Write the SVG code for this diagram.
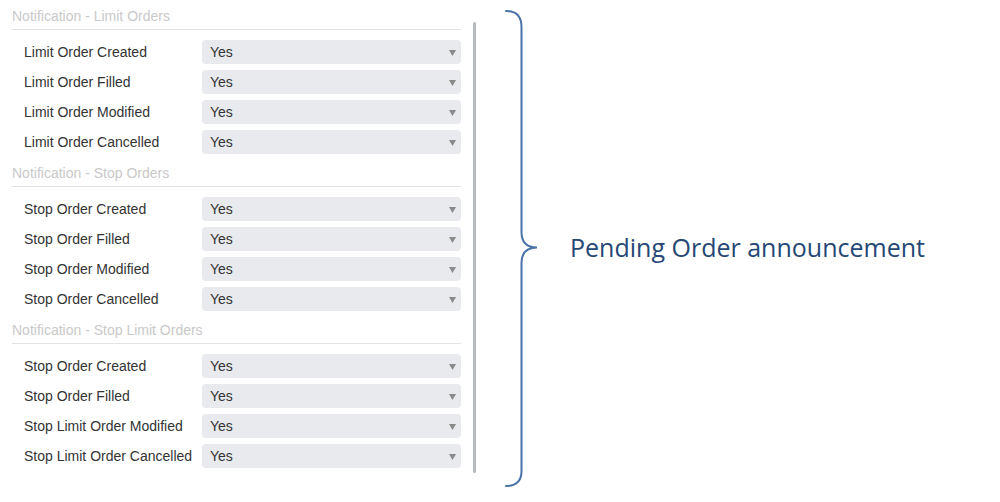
<svg xmlns="http://www.w3.org/2000/svg" width="1000" height="502" viewBox="0 0 1000 502">
<style>
.hdr{font-family:"Liberation Sans",Arial,sans-serif;font-size:14px;fill:#c9c9c9}
.hline{stroke:#e3e3e3;stroke-width:1}
.lbl{font-family:"Liberation Sans",Arial,sans-serif;font-size:14px;fill:#333}
.box{fill:#e8eaed}
.val{font-family:"Liberation Sans",Arial,sans-serif;font-size:14px;fill:#333}
.arr{fill:#8a8a8a}
.brace{fill:none;stroke:#4a73a9;stroke-width:2;stroke-linecap:round}
.big{font-family:"Open Sans","Noto Sans",sans-serif;font-size:25px;fill:#254875}
</style>
<defs>
<g id="sel">
<rect class="box" x="202" y="0" width="259" height="24" rx="4"/>
<text class="val" x="210" y="17">Yes</text>
<polygon class="arr" points="449,10 456,10 452.5,16"/>
</g>
</defs>
<rect width="1000" height="502" fill="#fff"/>
<g id="section-limit">
<text class="hdr" x="12" y="21">Notification - Limit Orders</text>
<line class="hline" x1="12" y1="29.5" x2="461" y2="29.5"/>
<g id="limit-created"><text class="lbl" x="24" y="57">Limit Order Created</text><use href="#sel" y="40"/></g>
<g id="limit-filled"><text class="lbl" x="24" y="87">Limit Order Filled</text><use href="#sel" y="70"/></g>
<g id="limit-modified"><text class="lbl" x="24" y="117">Limit Order Modified</text><use href="#sel" y="100"/></g>
<g id="limit-cancelled"><text class="lbl" x="24" y="147">Limit Order Cancelled</text><use href="#sel" y="130"/></g>
</g>
<g id="section-stop">
<text class="hdr" x="12" y="178">Notification - Stop Orders</text>
<line class="hline" x1="12" y1="186.5" x2="461" y2="186.5"/>
<g id="stop-created"><text class="lbl" x="24" y="214">Stop Order Created</text><use href="#sel" y="197"/></g>
<g id="stop-filled"><text class="lbl" x="24" y="244">Stop Order Filled</text><use href="#sel" y="227"/></g>
<g id="stop-modified"><text class="lbl" x="24" y="274">Stop Order Modified</text><use href="#sel" y="257"/></g>
<g id="stop-cancelled"><text class="lbl" x="24" y="304">Stop Order Cancelled</text><use href="#sel" y="287"/></g>
</g>
<g id="section-stoplimit">
<text class="hdr" x="12" y="335">Notification - Stop Limit Orders</text>
<line class="hline" x1="12" y1="343.5" x2="461" y2="343.5"/>
<g id="sl-created"><text class="lbl" x="24" y="371">Stop Order Created</text><use href="#sel" y="354"/></g>
<g id="sl-filled"><text class="lbl" x="24" y="401">Stop Order Filled</text><use href="#sel" y="384"/></g>
<g id="sl-modified"><text class="lbl" x="24" y="431">Stop Limit Order Modified</text><use href="#sel" y="414"/></g>
<g id="sl-cancelled"><text class="lbl" x="24" y="461">Stop Limit Order Cancelled</text><use href="#sel" y="444"/></g>
</g>
<g id="scrollbar">
<rect x="473" y="22" width="3" height="451" rx="1.5" fill="#b5babe"/>
</g>
<g id="connectors">
<path class="brace" d="M506,11 Q521.5,11 521.5,27 L521.5,232 Q521.5,247.5 537,247.5 Q521.5,247.5 521.5,263 L521.5,471 Q521.5,486 506,486"/>
</g>
<g id="announcement">
<text class="big" x="570" y="257" textLength="355" lengthAdjust="spacingAndGlyphs">Pending Order announcement</text>
</g>
</svg>
